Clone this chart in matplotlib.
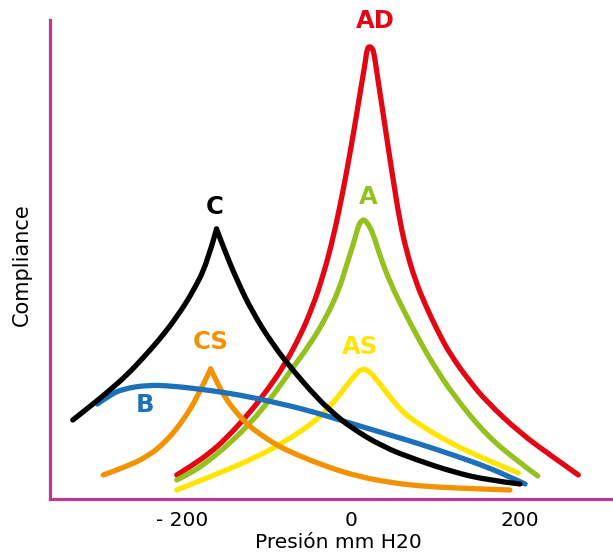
import matplotlib.pyplot as plt
from matplotlib.path import Path
from matplotlib.patches import PathPatch

# -----------------------
# Data (pressure in mm H2O, compliance in arbitrary units)
# -----------------------
c_x = [-329, -305, -285, -265, -246, -226, -206, -187, -170, -159, -151, -135,
       -116, -92, -69, -40, -21, -1, 38, 78, 121, 161, 200]
c_y = [79, 95, 109, 124, 141, 160, 182, 207, 236, 270, 252, 219,
       186, 154, 129, 101, 86, 72, 52, 39, 27, 19, 15]
c_peak = 9

b_x = [-300, -285, -270, -241, -211, -170, -131, -92, -52, -13, 38, 78,
       121, 161, 188, 206]
b_y = [95, 104, 110, 114, 113, 109, 104, 97, 89, 79, 66, 56, 44, 32, 22, 15]

cs_x = [-293, -270, -241, -218, -199, -182, -166, -157, -147, -135, -123,
        -108, -88, -69, -28, 11, 50, 82, 121, 188]
cs_y = [24, 31, 42, 58, 78, 101, 130, 114, 99, 86, 75,
        65, 54, 46, 32, 22, 16, 13, 11, 9]
cs_peak = 6

ad_x = [-206, -187, -167, -147, -119, -99, -80, -60, -45, -33, -21, -9, 1, 7,
        13, 17, 19, 22, 26, 28, 32, 38, 44, 50, 58, 66, 76, 88, 102, 117, 141,
        161, 200, 239, 269]
ad_y = [24, 34, 46, 61, 87, 109, 132, 163, 193, 223, 261, 309, 356, 386,
        417, 437, 450, 453, 450, 442, 419, 386, 352, 319, 277, 247, 219, 194, 169, 145, 117,
        97, 66, 42, 24]

a_x = [-206, -187, -167, -143, -119, -96, -69, -49, -31, -15, -4, 5, 9, 14,
       19, 26, 34, 46, 62, 82, 97, 121, 161, 200, 221]
a_y = [19, 27, 39, 56, 76, 99, 131, 154, 179, 207, 237, 261, 274, 280,
       277, 266, 244, 217, 189, 157, 135, 104, 63, 36, 23]

as_x = [-206, -167, -119, -80, -40, -21, -1, 7, 13, 20, 31, 58, 78, 117, 161, 198]
as_y = [9, 22, 39, 56, 79, 96, 118, 126, 130, 129, 119, 89, 76, 56, 39, 26]

tick_pos = [-200, 0, 200]
tick_labels = ["- 200", "0", "200"]


def smooth_path(xs, ys):
    # quadratic bezier through midpoints, read points used as control points
    pts = list(zip(xs, ys))
    verts = [pts[0]]
    codes = [Path.MOVETO]
    n = len(pts)
    for i in range(1, n - 1):
        if i == n - 2:
            end = pts[-1]
        else:
            end = ((pts[i][0] + pts[i + 1][0]) / 2, (pts[i][1] + pts[i + 1][1]) / 2)
        verts += [pts[i], end]
        codes += [Path.CURVE3, Path.CURVE3]
    return Path(verts, codes)


def draw(ax, xs, ys, color, cusp=None):
    if cusp is None:
        parts = [(xs, ys)]
    else:
        parts = [(xs[:cusp + 1], ys[:cusp + 1]), (xs[cusp:], ys[cusp:])]
    for px, py in parts:
        patch = PathPatch(smooth_path(px, py), fill=False, edgecolor=color,
                          lw=3.8, capstyle="round", joinstyle="round")
        ax.add_patch(patch)


# -----------------------
# Plot
# -----------------------
fig = plt.figure(figsize=(6.13, 5.54), dpi=100)
ax = fig.add_axes([50 / 613, 55 / 554, 563 / 613, 479 / 554])

draw(ax, ad_x, ad_y, "#e30613")
draw(ax, a_x, a_y, "#95c11f")
draw(ax, as_x, as_y, "#ffe500")
draw(ax, cs_x, cs_y, "#f39200", cusp=cs_peak)
draw(ax, b_x, b_y, "#1d71b8")
draw(ax, c_x, c_y, "black", cusp=c_peak)

lab = dict(fontsize=17.5, fontweight="bold", ha="center", va="center", clip_on=False)
ax.text(29, 478, "AD", color="#e30613", **lab)
ax.text(20, 302, "A", color="#95c11f", **lab)
ax.text(-161, 292, "C", color="black", **lab)
ax.text(-166, 157, "CS", color="#f39200", **lab)
ax.text(11, 152, "AS", color="#ffe500", **lab)
ax.text(-244, 94, "B", color="#1d71b8", **lab)

ax.set_xlim(-356, 310)
ax.set_ylim(0, 479)

for s in ["top", "right"]:
    ax.spines[s].set_visible(False)
for s in ["left", "bottom"]:
    ax.spines[s].set_color("#bf3a8f")
    ax.spines[s].set_linewidth(2.3)

ax.set_xticks(tick_pos)
ax.set_xticklabels(tick_labels)
ax.tick_params(axis="x", length=0, pad=9, labelsize=14.5)
ax.set_yticks([])

ax.set_xlabel("Presión mm H20", fontsize=14.5)
ax.xaxis.set_label_coords(0.513, -0.071)
ax.set_ylabel("Compliance", fontsize=15)
ax.yaxis.set_label_coords(-0.032, 0.49)

fig.savefig("out.png", dpi=100)
